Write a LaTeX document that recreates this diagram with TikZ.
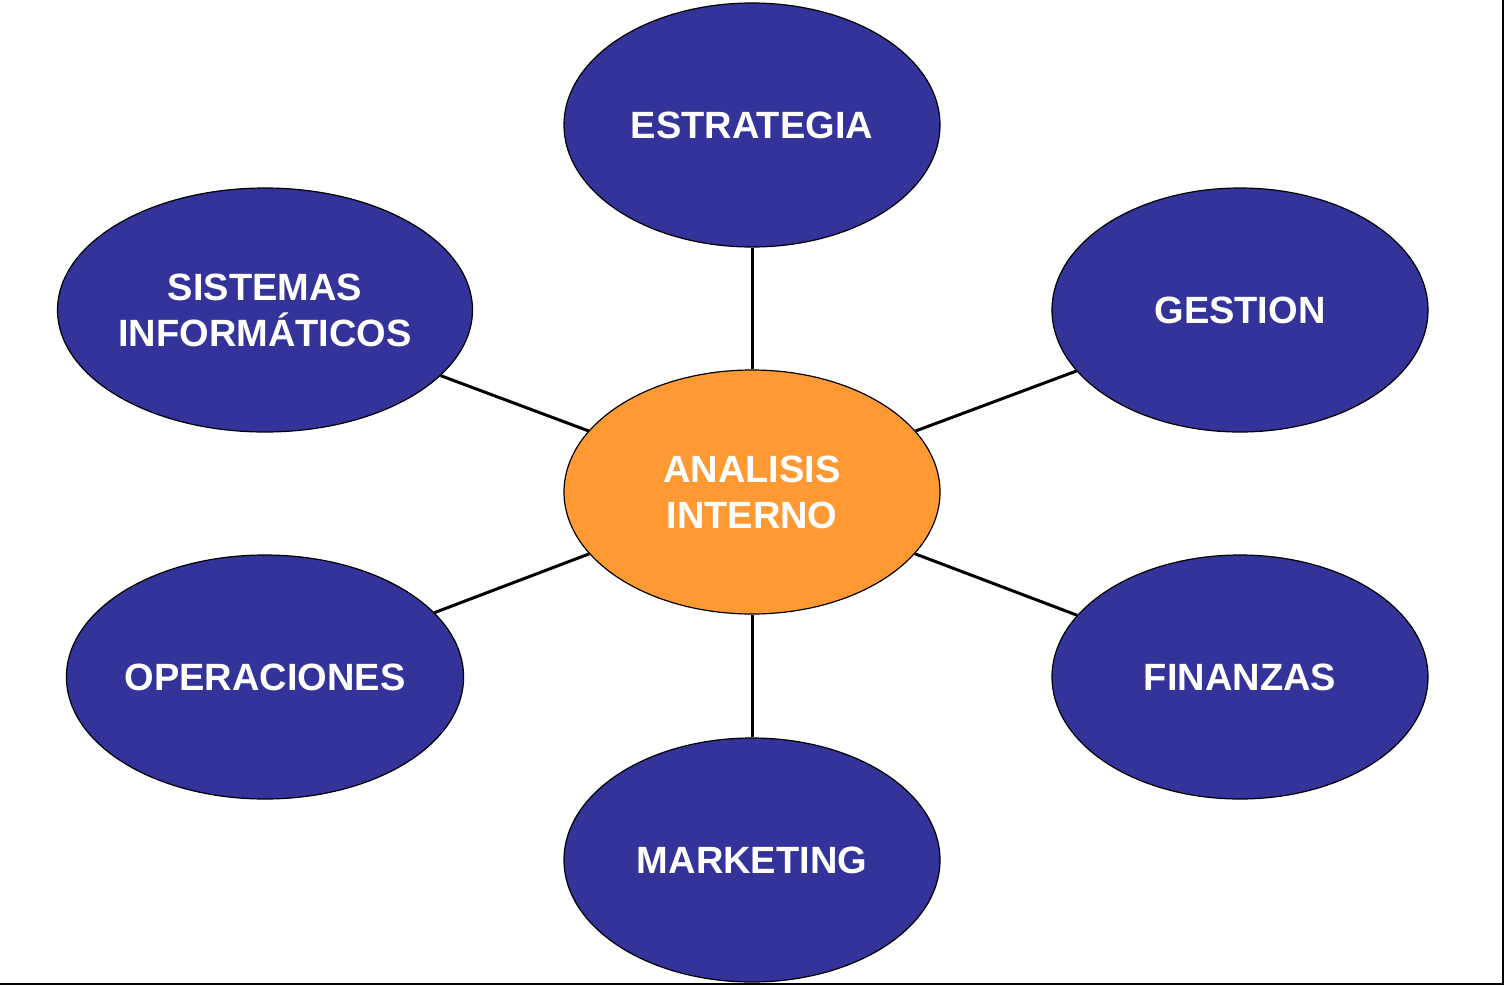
\documentclass[tikz,border=0pt]{standalone}
\usepackage{fontspec}
\setmainfont{Liberation Sans}
\usetikzlibrary{shapes.geometric}
\definecolor{nblue}{HTML}{333399}
\definecolor{norange}{HTML}{FF9933}
\begin{document}
\begin{tikzpicture}[x=0.5pt,y=-0.5pt,
  bub/.style={ellipse,draw=black,line width=0.6pt,fill=nblue,minimum width=188pt,minimum height=122pt,inner sep=0pt,text=white,font=\fontsize{19}{23}\selectfont\bfseries,align=center},
  link/.style={draw=black,line width=1.5pt}]
\useasboundingbox (0,0) rectangle (1504,985);
\fill[white] (0,0) rectangle (1504,985);
\node[bub] (est) at (752,125) {ESTRATEGIA};
\node[bub] (ges) at (1240,310) {GESTION};
\node[bub] (fin) at (1240,677) {FINANZAS};
\node[bub] (mkt) at (752,860) {MARKETING};
\node[bub] (ope) at (265,677) {OPERACIONES};
\node[bub] (sis) at (265,310) {SISTEMAS\\INFORMÁTICOS};
\node[bub,fill=norange] (cen) at (752,492) {ANALISIS\\INTERNO};
\foreach \n in {est,ges,fin,mkt,ope,sis} \draw[link] (cen) -- (\n);
\draw[black,line width=1pt] (1503,0) -- (1503,984) -- (0,984);
\end{tikzpicture}
\end{document}
